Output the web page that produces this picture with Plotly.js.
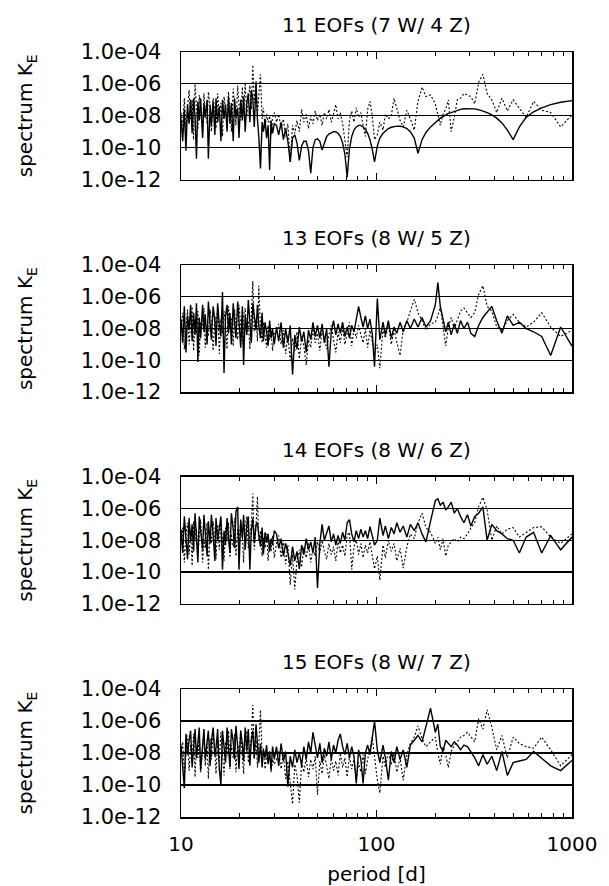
<!DOCTYPE html>
<html><head><meta charset="utf-8">
<script src="https://cdn.plot.ly/plotly-3.0.1.min.js"></script>
<style>html,body{margin:0;padding:0;background:#fff}#chart{width:609px;height:886px}</style>
</head><body><div id="chart"></div>
<script>
// period [d] of each spectral estimate (shared by all panels)
const period = [
10.0,10.2,10.4,10.6,10.8,11.0,11.2,11.4,11.6,11.8,
12.0,12.2,12.4,12.6,12.9,13.1,13.3,13.6,13.8,14.1,
14.3,14.6,14.9,15.1,15.4,15.7,16.0,16.3,16.6,16.9,
17.2,17.5,17.8,18.1,18.5,18.8,19.1,19.5,19.8,20.2,
20.6,20.9,21.3,21.7,22.1,22.5,22.9,23.3,23.7,24.2,
24.6,25.0,25.5,26.0,26.4,26.9,27.4,27.9,28.4,28.9,
29.4,30.0,
30.8,31.6,32.5,33.4,34.3,35.2,36.2,37.2,38.2,39.2,
40.3,41.4,42.5,43.7,44.9,46.1,47.3,48.6,49.9,51.3,
52.7,54.1,55.6,57.1,58.7,60.3,61.9,63.6,65.3,67.1,
68.9,70.8,72.7,74.7,76.7,78.8,81.0,83.2,85.4,87.7,
90.1,92.6,95.1,97.7,
101,104,108,111,115,119,123,127,132,137,143,149,156,163,171,179,189,
200,206,212,219,226,233,241,250,259,269,280,292,304,318,333,350,368,389,412,438,467,500,538,583,636,700,778,875,1000];

const panelTitles = ["11 EOFs (7 W/ 4 Z)", "13 EOFs (8 W/ 5 Z)", "14 EOFs (8 W/ 6 Z)", "15 EOFs (8 W/ 7 Z)"];
const yTickValues = [1e-12, 1e-10, 1e-8, 1e-6, 1e-4];
const yTickLabels = ["1.0e-12", "1.0e-10", "1.0e-08", "1.0e-06", "1.0e-04"];
const xTickValues = [10, 100, 1000];
const xTickLabels = ["10", "100", "1000"];
const xMinorTicks = [20,30,40,50,60,70,80,90,200,300,400,500,600,700,800,900];

// spectrum K_E, given as log10 values
const p1Solid = [
-8.2,-9.6,-7.6,-10.2,-7.3,-8.5,-7.0,-9.1,-6.9,-8.0,
-10.7,-7.1,-8.3,-6.9,-9.4,-7.2,-8.1,-7.0,-10.7,-7.3,
-8.6,-7.1,-9.2,-6.9,-8.4,-7.4,-9.6,-7.0,-8.2,-7.3,
-9.0,-6.8,-8.5,-7.2,-9.6,-6.9,-8.1,-7.5,-9.4,-7.0,
-8.3,-6.8,-9.0,-7.2,-6.6,-8.4,-6.4,-6.9,-8.7,-6.0,
-8.2,-9.3,-11.3,-8.4,-9.0,-8.2,-9.4,-8.6,-11.4,-8.3,-9.1,-8.5,
-8.6,-9.2,-8.4,-9.5,-8.8,-9.6,-10.9,-9.4,-9.2,-9.7,
-10.8,-9.9,-9.6,-9.6,-10.2,-11.6,-10.0,-9.5,-9.45,-9.6,
-10.15,-9.7,-9.3,-9.15,-9.05,-9.0,-9.0,-9.1,-9.3,-9.7,
-10.4,-11.85,-10.1,-9.3,-8.9,-8.7,-8.6,-8.6,-8.7,-8.85,
-9.1,-9.5,-10.1,-10.9,
-9.9,-9.4,-9.1,-8.95,-8.8,-8.72,-8.67,-8.65,-8.66,-8.7,-8.8,-9.0,-9.4,-10.35,-9.5,-9.05,-8.7,
-8.4,-8.3,-8.15,-8.05,-7.95,-7.85,-7.8,-7.72,-7.66,-7.6,
-7.56,-7.55,-7.55,-7.57,-7.62,-7.7,-7.8,-7.95,-8.15,-8.45,
-8.9,-9.5,-8.7,-8.1,-7.75,-7.5,-7.3,-7.15,-7.05];
const p1Dotted = [
-7.8,-8.6,-6.9,-8.9,-7.5,-6.4,-8.2,-7.0,-9.5,-6.0,
-7.6,-8.8,-6.7,-7.9,-9.1,-6.6,-7.8,-8.5,-6.5,-7.4,
-9.0,-6.9,-7.7,-8.8,-6.6,-8.0,-7.2,-9.3,-6.8,-7.6,
-8.4,-6.5,-7.9,-9.0,-6.3,-7.5,-8.6,-6.1,-7.4,-8.3,
-6.2,-7.8,-5.9,-8.0,-6.8,-6.1,-7.6,-4.8,-7.2,-5.8,
-7.9,-6.6,-5.4,-8.2,-7.5,-8.8,-7.9,-8.4,-8.0,-9.2,-8.1,-7.8,
-8.4,-7.9,-8.8,-8.2,-9.3,-8.5,-10.9,-8.6,-9.1,-8.3,
-9.0,-7.6,-8.4,-7.9,-8.8,-8.0,-8.5,-7.7,-8.3,-7.9,
-8.6,-7.8,-8.2,-7.6,-8.4,-7.9,-7.3,-8.2,-7.8,-8.5,
-9.4,-10.6,-8.3,-7.7,-8.4,-7.5,-8.1,-7.8,-8.6,-9.3,
-7.6,-7.1,-8.0,-9.5,
-9.2,-8.4,-8.9,-7.9,-8.2,-8.0,-6.9,-7.6,-8.3,-8.7,-7.65,-8.2,-8.9,-7.1,-6.2,-6.8,-6.7,
-7.25,-7.97,-8.6,-7.9,-7.6,-7.0,-9.0,-8.1,-7.0,-6.9,
-6.6,-6.7,-6.8,-7.25,-5.9,-5.4,-6.6,-7.0,-7.8,-6.9,
-7.7,-7.0,-7.5,-8.1,-7.1,-7.65,-7.8,-8.7,-7.95];

const p2Solid = [
-7.4,-8.9,-6.6,-9.5,-7.2,-8.1,-6.5,-8.8,-7.0,-8.4,
-6.4,-10.1,-7.3,-8.6,-6.5,-8.2,-7.1,-9.0,-6.3,-7.9,
-8.7,-6.6,-7.5,-9.1,-6.4,-7.8,-8.5,-5.7,-10.8,-7.2,
-6.5,-8.3,-7.0,-9.0,-6.4,-7.7,-8.6,-6.3,-7.4,-9.2,
-6.6,-10.3,-7.1,-8.4,-6.2,-7.6,-8.9,-6.4,-7.3,-8.1,
-6.5,-7.8,-8.6,-7.0,-8.8,-7.6,-8.2,-9.1,-7.5,-8.6,-8.0,-9.0,
-7.9,-8.8,-7.6,-9.2,-8.0,-8.9,-7.8,-10.9,-8.4,-9.3,
-7.9,-8.8,-8.2,-9.5,-8.1,-8.7,-7.6,-8.5,-7.8,-8.6,
-7.7,-8.9,-8.0,-10.4,-8.2,-7.5,-8.4,-7.7,-8.3,-7.6,
-8.5,-7.9,-8.6,-7.8,-8.2,-7.4,-6.6,-7.3,-7.9,-7.2,
-8.0,-7.4,-8.3,-10.4,
-6.1,-8.7,-7.6,-8.4,-7.5,-8.6,-7.9,-8.3,-7.6,-8.2,-7.5,-8.0,-7.4,-7.9,-7.3,-7.9,-7.5,
-6.5,-5.1,-6.6,-7.4,-8.2,-7.6,-8.4,-7.7,-8.3,-7.5,
-8.0,-7.6,-8.3,-8.5,-7.8,-7.3,-7.0,-6.6,-7.5,-8.3,
-7.2,-7.8,-7.6,-8.0,-8.2,-8.5,-9.7,-7.9,-9.1];
const p2Dotted = [
-8.1,-7.0,-9.3,-7.7,-6.8,-9.0,-7.9,-6.6,-9.4,-7.5,
-8.3,-6.9,-9.7,-7.6,-8.0,-6.7,-9.2,-7.8,-8.5,-6.8,
-7.6,-9.4,-7.2,-8.1,-6.7,-9.6,-7.4,-8.3,-6.9,-7.7,
-9.3,-6.6,-8.0,-7.3,-9.1,-6.8,-7.9,-8.7,-6.5,-7.6,
-9.0,-7.1,-6.7,-8.4,-7.5,-9.3,-6.6,-5.0,-8.2,-7.4,
-8.8,-5.3,-7.9,-8.9,-7.6,-8.4,-9.2,-7.8,-8.7,-8.1,-9.4,-8.3,
-8.3,-7.7,-9.0,-8.1,-9.6,-8.4,-10.0,-8.6,-9.4,-8.2,
-9.9,-8.5,-9.1,-10.3,-8.7,-9.2,-8.0,-8.9,-8.3,-9.4,
-8.1,-8.6,-9.3,-8.4,-7.8,-8.7,-9.5,-8.2,-8.9,-7.9,
-9.0,-8.3,-7.6,-9.1,-8.0,-8.6,-7.8,-8.4,-8.9,-8.0,
-9.2,-8.1,-8.7,-9.5,
-9.0,-10.5,-8.0,-8.6,-7.7,-9.0,-8.1,-8.8,-9.7,-8.0,-7.6,-6.9,-6.15,-7.0,-7.5,-8.1,-7.7,
-7.6,-7.2,-6.6,-7.8,-9.1,-7.9,-7.3,-8.0,-7.4,-6.9,
-6.7,-7.0,-7.3,-7.0,-5.85,-5.3,-6.6,-6.9,-7.9,-8.1,
-7.5,-7.1,-7.6,-7.9,-7.6,-7.0,-7.9,-8.5,-8.1];

const p3Solid = [
-7.3,-8.8,-6.5,-7.9,-9.2,-6.6,-8.1,-7.0,-8.7,-6.3,
-7.8,-9.4,-6.5,-7.5,-8.6,-6.4,-7.7,-9.0,-6.8,-8.2,
-6.4,-7.6,-9.3,-6.6,-8.0,-7.2,-6.5,-9.85,-7.4,-8.3,
-6.6,-7.9,-8.8,-6.3,-7.3,-8.5,-6.2,-5.9,-9.85,-6.7,
-7.9,-6.4,-8.6,-7.1,-6.5,-9.85,-7.4,-6.6,-8.2,-7.0,
-6.9,-7.7,-8.4,-7.2,-8.9,-7.5,-8.1,-7.6,-8.7,-7.9,-8.3,-7.4,
-7.6,-8.5,-7.9,-9.0,-8.2,-8.8,-9.6,-8.4,-9.3,-8.7,
-9.8,-8.3,-8.9,-7.9,-8.6,-8.1,-8.8,-7.8,-11.0,-8.2,
-7.0,-8.0,-7.5,-7.1,-8.1,-7.6,-8.3,-7.7,-8.2,-7.5,
-8.0,-6.9,-6.7,-7.6,-8.1,-7.4,-7.9,-7.3,-7.8,-7.4,
-7.9,-7.15,-7.7,-8.3,
-8.0,-6.6,-7.7,-7.1,-7.9,-7.2,-7.6,-6.9,-7.5,-7.1,-7.8,-7.0,-7.4,-6.9,-7.6,-8.1,-6.8,
-5.5,-5.4,-5.8,-5.6,-6.1,-5.9,-5.6,-6.3,-6.0,-6.5,
-6.9,-6.4,-7.1,-6.5,-6.3,-5.9,-8.0,-7.0,-7.4,-7.6,
-7.9,-8.0,-8.8,-7.8,-7.5,-8.8,-7.7,-8.6,-7.8];
const p3Dotted = [
-8.3,-7.2,-9.4,-7.6,-6.9,-8.9,-7.4,-9.6,-6.8,-8.0,
-7.3,-9.0,-7.7,-6.7,-9.4,-7.9,-8.5,-6.9,-9.85,-7.5,
-8.2,-6.8,-7.8,-9.2,-7.0,-8.6,-6.7,-8.1,-9.3,-7.2,
-8.0,-6.9,-9.1,-7.6,-8.4,-6.6,-9.0,-7.3,-8.2,-6.8,
-7.7,-9.4,-7.0,-6.5,-8.5,-7.8,-6.9,-5.06,-8.6,-7.1,
-5.27,-8.1,-7.4,-9.0,-7.8,-8.5,-7.6,-9.3,-8.0,-8.7,-7.7,-9.1,
-8.2,-7.7,-9.1,-8.0,-9.5,-8.3,-10.8,-8.9,-11.1,-9.2,
-8.6,-9.7,-8.4,-9.1,-8.2,-9.4,-8.5,-9.0,-8.1,-8.8,
-8.0,-8.7,-9.2,-8.2,-8.9,-8.4,-9.3,-8.1,-8.8,-8.3,
-9.0,-7.7,-7.5,-9.85,-8.4,-8.0,-8.9,-8.2,-9.1,-8.3,
-8.8,-8.1,-8.9,-9.8,
-9.0,-10.5,-8.3,-9.1,-8.0,-8.7,-8.2,-9.3,-8.5,-9.75,-8.4,-7.6,-7.9,-6.9,-6.3,-7.2,-7.5,
-8.2,-7.8,-8.6,-7.9,-9.0,-8.3,-8.1,-7.9,-8.1,-7.8,
-7.9,-7.6,-7.2,-6.9,-5.9,-5.3,-6.1,-8.0,-7.1,-7.6,
-7.3,-7.2,-7.8,-7.5,-7.2,-7.15,-7.8,-8.2,-7.6];

const p4Solid = [
-7.5,-8.7,-10.2,-6.8,-8.1,-7.2,-6.6,-8.9,-7.4,-6.5,
-8.3,-7.0,-6.4,-9.1,-7.6,-6.5,-8.4,-7.1,-6.6,-8.8,
-7.3,-6.4,-8.2,-7.7,-6.5,-9.0,-10.0,-6.6,-7.5,-8.6,
-6.4,-7.8,-8.9,-6.5,-7.3,-8.4,-6.3,-7.6,-9.0,-6.6,
-7.4,-8.5,-6.4,-7.9,-6.5,-8.8,-7.2,-6.6,-8.3,-6.2,
-7.7,-8.6,-7.4,-8.9,-7.8,-8.3,-7.5,-8.7,-7.9,-9.1,-7.6,-8.4,
-7.6,-8.8,-7.4,-8.5,-7.9,-10.1,-8.2,-8.9,-7.8,-8.6,
-8.0,-8.8,-7.6,-8.4,-7.3,-8.0,-6.7,-7.5,-8.3,-7.4,
-8.6,-7.7,-8.2,-7.3,-8.4,-7.5,-8.0,-7.2,-6.8,-7.6,
-8.1,-7.4,-8.3,-7.6,-8.2,-9.9,-7.8,-8.4,-9.9,-8.0,
-7.5,-8.1,-6.9,-6.0,
-7.8,-8.6,-7.5,-8.3,-9.7,-7.9,-8.6,-7.6,-8.4,-7.8,-8.9,-7.5,-7.2,-6.9,-7.3,-6.4,-5.2,
-6.7,-6.2,-7.6,-7.9,-7.2,-7.4,-7.6,-7.3,-7.5,-7.8,
-7.5,-7.6,-7.9,-8.3,-8.8,-8.1,-8.7,-8.2,-9.1,-7.9,
-9.4,-8.6,-8.5,-8.4,-7.9,-8.35,-8.8,-9.1,-8.46];
const p4Dotted = [
-8.0,-7.3,-9.4,-7.8,-6.9,-9.1,-7.5,-8.6,-6.8,-9.5,
-7.6,-8.3,-6.9,-9.2,-7.9,-6.7,-8.8,-7.4,-9.6,-7.1,
-8.4,-6.8,-7.7,-9.3,-7.2,-8.5,-6.7,-8.0,-9.4,-7.3,
-8.2,-6.6,-9.0,-7.5,-8.3,-6.8,-9.2,-7.4,-8.1,-6.6,
-7.9,-9.3,-7.1,-6.6,-8.6,-7.6,-7.0,-5.0,-8.4,-7.2,
-8.9,-7.5,-5.3,-8.2,-7.7,-9.0,-8.1,-8.6,-7.9,-9.2,-8.4,-8.7,
-8.4,-7.9,-9.0,-8.1,-9.6,-8.5,-9.8,-11.2,-8.7,-9.4,
-11.1,-8.6,-9.2,-8.3,-9.5,-8.4,-9.0,-8.2,-10.6,-8.5,
-9.3,-8.1,-8.8,-9.6,-8.3,-9.1,-8.5,-9.4,-8.0,-8.9,
-8.3,-9.5,-8.2,-9.0,-8.4,-9.7,-8.6,-9.2,-8.1,-9.3,
-8.4,-7.6,-7.0,-8.2,
-9.7,-10.5,-8.2,-8.9,-7.9,-8.7,-8.0,-9.2,-8.3,-9.7,-8.1,-7.4,-7.0,-6.3,-7.1,-7.6,-7.3,
-7.0,-8.0,-8.7,-7.6,-8.1,-8.9,-7.9,-7.5,-7.3,-7.0,
-6.9,-6.7,-7.0,-7.3,-5.85,-6.5,-5.3,-6.4,-7.8,-6.9,
-8.3,-7.0,-7.4,-7.6,-7.7,-7.0,-7.8,-8.8,-8.1];

const solidSeries = [p1Solid, p2Solid, p3Solid, p4Solid];
const dottedSeries = [p1Dotted, p2Dotted, p3Dotted, p4Dotted];

// panel vertical domains (paper fraction), top panel first
const domains = [[0.8333, 1], [0.5555, 0.7214], [0.2786, 0.4449], [0, 0.1672]];

const FONT = 'DejaVu Sans, sans-serif';
const traces = [];
const layout = {
  width: 609, height: 886,
  margin: {l: 181, r: 37, t: 52, b: 69},
  paper_bgcolor: '#fff', plot_bgcolor: '#fff',
  showlegend: false,
  font: {family: FONT, size: 20, color: '#000'},
  annotations: []
};

for (let i = 0; i < 4; i++) {
  const sfx = i === 0 ? '' : String(i + 1);
  traces.push({
    x: period, y: solidSeries[i].map(v => Math.pow(10, v)),
    xaxis: 'x' + sfx, yaxis: 'y' + sfx,
    type: 'scatter', mode: 'lines',
    line: {color: '#000', width: 1.4}
  });
  traces.push({
    x: period, y: dottedSeries[i].map(v => Math.pow(10, v)),
    xaxis: 'x' + sfx, yaxis: 'y' + sfx,
    type: 'scatter', mode: 'lines',
    line: {color: '#000', width: 1.1, dash: '2px,2px'}
  });
  const xa = {
    type: 'log', range: [1, 3], domain: [0, 1], anchor: 'y' + sfx,
    showline: true, linecolor: '#000', linewidth: 1.5, mirror: 'allticks',
    ticks: 'inside', ticklen: 7, tickwidth: 1, tickcolor: '#000',
    tickmode: 'array', tickvals: xTickValues, ticktext: xTickLabels,
    showticklabels: i === 3, ticklabelstandoff: 8,
    tickfont: {family: FONT, size: 20},
    minor: {ticks: 'inside', ticklen: 4, tickwidth: 1, tickcolor: '#000', tickvals: xMinorTicks, showgrid: false},
    showgrid: false, zeroline: false
  };
  if (i === 3) xa.title = {text: 'period [d]', font: {family: FONT, size: 20}, standoff: 12};
  layout['xaxis' + sfx] = xa;
  layout['yaxis' + sfx] = {
    type: 'log', range: [-12, -4], domain: domains[i], anchor: 'x' + sfx,
    showline: true, linecolor: '#000', linewidth: 1.5, mirror: true,
    ticks: '', tickmode: 'array', tickvals: yTickValues, ticktext: yTickLabels,
    tickfont: {family: FONT, size: 21}, ticklabelstandoff: 14,
    showgrid: true, gridcolor: '#000', gridwidth: 1.2, zeroline: false,
    title: {text: 'spectrum K<sub>E</sub>', font: {family: FONT, size: 20}, standoff: 42}
  };
  layout.annotations.push({
    text: panelTitles[i], xref: 'paper', yref: 'paper',
    x: 0.5, y: domains[i][1], xanchor: 'center', yanchor: 'middle', yshift: 27,
    showarrow: false, font: {family: FONT, size: 20, color: '#000'}
  });
}

Plotly.newPlot('chart', traces, layout, {staticPlot: true, displayModeBar: false});
</script>
</body></html>
